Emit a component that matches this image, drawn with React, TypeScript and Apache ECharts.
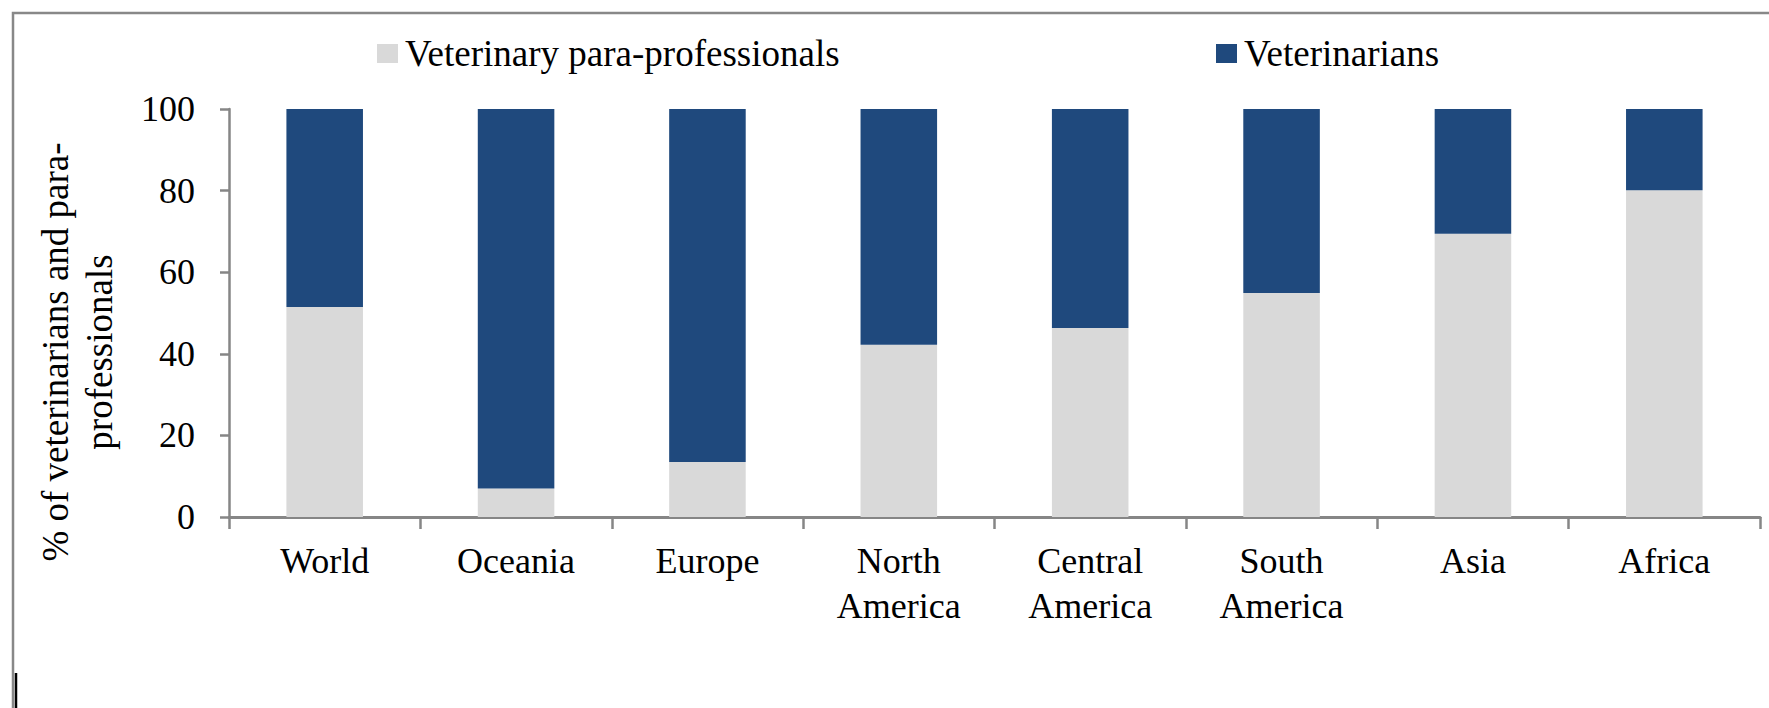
import React, { useEffect, useRef } from "react";
import * as echarts from "echarts";

const categories = [
  "World",
  "Oceania",
  "Europe",
  "North\nAmerica",
  "Central\nAmerica",
  "South\nAmerica",
  "Asia",
  "Africa",
];
const paraProfessionals = [51.5, 7, 13.5, 42.2, 46.3, 54.9, 69.4, 80.1];
const veterinarians = [48.5, 93, 86.5, 57.8, 53.7, 45.1, 30.6, 19.9];
const seriesNames = ["Veterinary para-professionals", "Veterinarians"];
const yAxisTitle = "% of veterinarians and para-\nprofessionals";

const FONT = '"Liberation Serif", "Times New Roman", serif';
const AXIS_COLOR = "#868686";

export default function App() {
  const ref = useRef<HTMLDivElement>(null);

  useEffect(() => {
    if (!ref.current) return;
    const chart = echarts.init(ref.current, undefined, { renderer: "svg" });
    const legendBase = {
      orient: "horizontal",
      top: 35,
      padding: 0,
      icon: "rect",
      itemWidth: 21,
      itemHeight: 19,
      selectedMode: false,
      textStyle: {
        fontFamily: FONT,
        fontSize: 37,
        color: "#000",
        lineHeight: 37,
        padding: [0, 0, 0, 2],
      },
    };
    chart.setOption({
      animation: false,
      backgroundColor: "#fff",
      legend: [
        { ...legendBase, left: 377, data: [seriesNames[0]] },
        { ...legendBase, left: 1216, data: [seriesNames[1]] },
      ],
      grid: { left: 229, top: 109, right: 9, bottom: 191, containLabel: false },
      xAxis: {
        type: "category",
        data: categories,
        axisLine: { show: true, lineStyle: { color: AXIS_COLOR, width: 3 } },
        axisTick: {
          show: true,
          length: 12,
          lineStyle: { color: AXIS_COLOR, width: 2.5 },
        },
        axisLabel: {
          fontFamily: FONT,
          fontSize: 36,
          color: "#000",
          lineHeight: 45,
          margin: 21,
          interval: 0,
        },
      },
      yAxis: {
        type: "value",
        min: 0,
        max: 100,
        interval: 20,
        splitLine: { show: false },
        axisLine: { show: true, lineStyle: { color: AXIS_COLOR, width: 2.5 } },
        axisTick: {
          show: true,
          length: 9,
          lineStyle: { color: AXIS_COLOR, width: 2.5 },
        },
        axisLabel: {
          fontFamily: FONT,
          fontSize: 36,
          color: "#000",
          margin: 34,
        },
      },
      series: [
        {
          name: seriesNames[0],
          type: "bar",
          stack: "total",
          barWidth: "40%",
          itemStyle: { color: "#d9d9d9" },
          data: paraProfessionals,
        },
        {
          name: seriesNames[1],
          type: "bar",
          stack: "total",
          barWidth: "40%",
          itemStyle: { color: "#1f497d" },
          data: veterinarians,
        },
      ],
      graphic: [
        {
          type: "rect",
          shape: { x: 13, y: 13, width: 1820, height: 800 },
          style: { fill: "none", stroke: "#888888", lineWidth: 2.5 },
          silent: true,
        },
        {
          type: "line",
          shape: { x1: 16, y1: 673, x2: 16, y2: 710 },
          style: { stroke: "#000", lineWidth: 2.5 },
          silent: true,
        },
        {
          type: "text",
          x: 77,
          y: 352,
          rotation: Math.PI / 2,
          style: {
            text: yAxisTitle,
            font: `37px ${FONT}`,
            fill: "#000",
            align: "center",
            verticalAlign: "middle",
            lineHeight: 44,
          },
          silent: true,
        },
      ],
    });
    return () => chart.dispose();
  }, []);

  return (
    <div
      ref={ref}
      style={{ position: "fixed", left: 0, top: 0, width: 1769, height: 708 }}
    />
  );
}
